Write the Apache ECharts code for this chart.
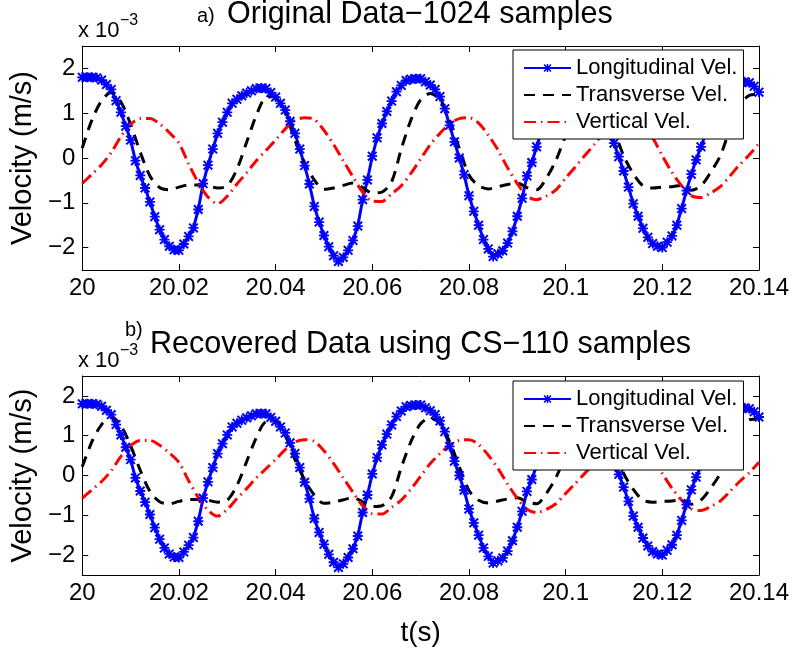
<!DOCTYPE html>
<html>
<head>
<meta charset="utf-8">
<script src="https://cdn.jsdelivr.net/npm/echarts@6/dist/echarts.min.js"></script>
<style>
  html, body { margin: 0; padding: 0; background: #fff; }
  #chart { width: 792px; height: 648px; }
</style>
</head>
<body>
<div id="chart"></div>
<script>
// velocities in units of 1e-3 m/s
// longitudinal: one sample per 1 ms from t = 20 s
var longitudinal = [
  1.80, 1.80, 1.80, 1.79, 1.74, 1.64, 1.53, 1.28, 1.02, 0.71,
  0.40, -0.06, -0.39, -0.67, -0.98, -1.31, -1.60, -1.82, -1.97, -2.05,
  -2.06, -1.92, -1.75, -1.56, -1.15, -0.57, -0.16, 0.20, 0.55, 0.80,
  1.02, 1.22, 1.31, 1.39, 1.45, 1.50, 1.55, 1.56, 1.55, 1.46,
  1.36, 1.22, 1.07, 0.82, 0.55, 0.20, -0.17, -0.58, -1.08, -1.43,
  -1.73, -1.98, -2.18, -2.31, -2.22, -2.06, -1.84, -1.52, -0.93, -0.49,
  0.04, 0.45, 0.77, 1.04, 1.27, 1.48, 1.62, 1.73, 1.76, 1.77,
  1.77, 1.70, 1.63, 1.53, 1.37, 1.10, 0.73, 0.36, 0.00, -0.37,
  -0.84, -1.19, -1.50, -1.82, -2.03, -2.20, -2.14, -2.07, -1.90, -1.64,
  -1.30, -0.90, -0.40, -0.10, 0.25, 0.60, 0.90, 1.15, 1.35, 1.47,
  1.55, 1.59, 1.60, 1.54, 1.45, 1.31, 1.15, 0.98, 0.80, 0.58,
  0.33, 0.03, -0.29, -0.65, -1.02, -1.30, -1.57, -1.77, -1.91, -1.97,
  -2.00, -1.88, -1.74, -1.50, -1.13, -0.73, -0.36, -0.04, 0.25, 0.55,
  0.85, 1.08, 1.30, 1.46, 1.60, 1.65, 1.69, 1.70, 1.68, 1.60,
  1.47
];
// transverse and vertical: one value per 2 ms from t = 20 s
var transverse = [
  0.22, 0.85, 1.28, 1.47, 1.25, 0.75, 0.13, -0.40, -0.66, -0.71,
  -0.65, -0.60, -0.60, -0.62, -0.67, -0.62, -0.25, 0.35, 0.95, 1.35,
  1.37, 1.00, 0.40, -0.11, -0.49, -0.70, -0.67, -0.61, -0.56, -0.66,
  -0.78, -0.76, -0.53, 0.20, 0.85, 1.30, 1.44, 1.30, 0.85, 0.22,
  -0.38, -0.62, -0.69, -0.64, -0.59, -0.56, -0.66, -0.71, -0.45, -0.05,
  0.50, 1.00, 1.35, 1.42, 1.10, 0.62, 0.05, -0.35, -0.62, -0.67,
  -0.65, -0.64, -0.61, -0.72, -0.62, -0.32, 0.05, 0.65, 1.15, 1.40,
  1.42
];
var vertical = [
  -0.57, -0.36, -0.15, 0.12, 0.48, 0.75, 0.88, 0.88, 0.76, 0.57,
  0.33, -0.13, -0.55, -0.87, -1.02, -0.85, -0.58, -0.33, -0.06, 0.17,
  0.40, 0.65, 0.84, 0.90, 0.86, 0.62, 0.30, -0.06, -0.42, -0.76,
  -0.96, -0.97, -0.80, -0.62, -0.34, -0.02, 0.30, 0.55, 0.76, 0.88,
  0.90, 0.78, 0.51, 0.18, -0.22, -0.57, -0.85, -0.93, -0.85, -0.71,
  -0.45, -0.20, 0.06, 0.31, 0.58, 0.80, 0.90, 0.85, 0.70, 0.45,
  0.05, -0.32, -0.62, -0.84, -0.88, -0.78, -0.64, -0.40, -0.15, 0.07,
  0.33
];
var names = ['Longitudinal Vel.', 'Transverse Vel.', 'Vertical Vel.'];
var yTicks = [-2, -1, 0, 1, 2];
var tStart = 20, tEnd = 20.14, tStep = 0.02;

function withTime(vals, dt) {
  return vals.map(function (v, i) { return [+(tStart + i * dt).toFixed(4), v]; });
}

var font = 'Liberation Sans, Arial, Helvetica, sans-serif';
// asterisk-like marker
var star = 'path://M1.4,0L5,3.6L8.6,0L10,1.4L6.4,5L10,8.6L8.6,10L5,6.4L1.4,10L0,8.6L3.6,5L0,1.4Z' +
  'M4.1,0L5.9,0L5.9,4.1L10,4.1L10,5.9L5.9,5.9L5.9,10L4.1,10L4.1,5.9L0,5.9L0,4.1L4.1,4.1Z';

var grids = [
  { left: 78, top: 46, width: 684, height: 224 },
  { left: 78, top: 376, width: 684, height: 208 }
];

var legendData = [
  { name: names[0] },
  { name: names[1], itemStyle: { color: 'rgba(0,0,0,0)', borderWidth: 0 } },
  { name: names[2], itemStyle: { color: 'rgba(0,0,0,0)', borderWidth: 0 } }
];

var xAxes = [], yAxes = [], series = [], legends = [];
grids.forEach(function (g, gi) {
  var tick = { show: true, inside: true, length: 6, lineStyle: { color: '#000', width: 1 } };
  var line = { show: true, onZero: false, lineStyle: { color: '#000', width: 1 } };
  xAxes.push({
    gridIndex: gi, type: 'value', position: 'bottom', min: tStart, max: tEnd, interval: tStep,
    axisLine: line, axisTick: tick, splitLine: { show: false },
    axisLabel: { color: '#000', fontSize: 24, fontFamily: font, margin: 6,
      formatter: function (v) { return String(+v.toFixed(2)); } },
    name: gi === 1 ? 't(s)' : '', nameLocation: 'middle', nameGap: 44,
    nameTextStyle: { color: '#000', fontSize: 28, fontFamily: font }
  });
  xAxes.push({
    gridIndex: gi, type: 'value', position: 'top', min: tStart, max: tEnd, interval: tStep,
    axisLine: line, axisTick: tick, axisLabel: { show: false }, splitLine: { show: false }
  });
  yAxes.push({
    gridIndex: gi, type: 'value', position: 'left', min: -2.5, max: 2.5,
    axisLine: line, splitLine: { show: false },
    axisTick: Object.assign({ customValues: yTicks }, tick),
    axisLabel: { customValues: yTicks, color: '#000', fontSize: 24, fontFamily: font, margin: 7,
      formatter: function (v) { return String(v).replace('-', '\u2212'); } },
    name: 'Velocity (m/s)', nameLocation: 'middle', nameGap: 40, nameRotate: 90,
    nameTextStyle: { color: '#000', fontSize: 29, fontFamily: font }
  });
  yAxes.push({
    gridIndex: gi, type: 'value', position: 'right', min: -2.5, max: 2.5,
    axisLine: line, splitLine: { show: false },
    axisTick: Object.assign({ customValues: yTicks }, tick),
    axisLabel: { show: false }
  });
  var xi = gi * 2, yi = gi * 2;
  series.push({
    name: names[0], type: 'line', xAxisIndex: xi, yAxisIndex: yi,
    data: withTime(longitudinal, 0.001),
    symbol: star, symbolSize: 10, showSymbol: true,
    lineStyle: { color: '#0000ff', width: 3 },
    itemStyle: { color: '#0000ff' }
  });
  series.push({
    name: names[1], type: 'line', xAxisIndex: xi, yAxisIndex: yi,
    data: withTime(transverse, 0.002), symbol: 'none', smooth: 0.3,
    lineStyle: { color: '#000', width: 3, type: [11, 8] },
    itemStyle: { color: '#000' }
  });
  series.push({
    name: names[2], type: 'line', xAxisIndex: xi, yAxisIndex: yi,
    data: withTime(vertical, 0.002), symbol: 'none', smooth: 0.3,
    lineStyle: { color: '#ff0000', width: 3, type: [12, 5, 1.5, 5] },
    itemStyle: { color: '#ff0000' }
  });
  legends.push({
    orient: 'vertical', left: 513, top: gi === 0 ? 50 : 381,
    data: legendData, itemWidth: 47, itemHeight: 10, itemGap: 5,
    padding: [7, 6, 6, 10],
    backgroundColor: '#fff', borderColor: '#000', borderWidth: 1, borderRadius: 0,
    selectedMode: false,
    textStyle: { color: '#000', fontSize: 22, fontFamily: font, lineHeight: 22 }
  });
});

function txt(x, y, s, size) {
  return { type: 'text', left: x, top: y, style: { text: s, fill: '#000', font: size + 'px ' + font } };
}

var chart = echarts.init(document.getElementById('chart'));
chart.setOption({
  animation: false,
  backgroundColor: '#fff',
  grid: grids,
  xAxis: xAxes,
  yAxis: yAxes,
  legend: legends,
  series: series,
  graphic: [
    txt(197, 6, 'a)', 20),
    txt(227, -1, 'Original Data\u22121024 samples', 30.5),
    txt(78, 20, 'x 10', 22),
    txt(120, 13, '\u22123', 16),
    txt(125, 320, 'b)', 20),
    txt(150, 329, 'Recovered Data using CS\u2212110 samples', 30.5),
    txt(78, 350, 'x 10', 22),
    txt(120, 343, '\u22123', 16)
  ]
});
</script>
</body>
</html>
